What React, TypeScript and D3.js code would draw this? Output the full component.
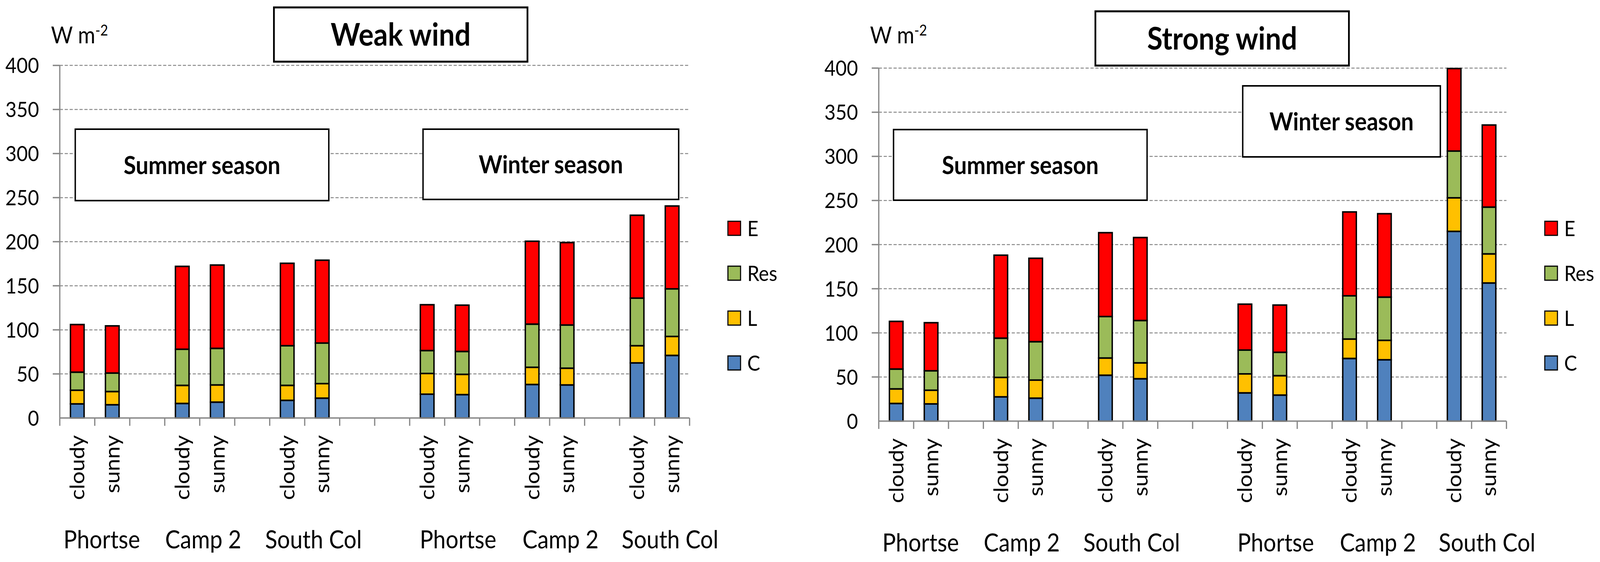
import React from 'react';
import * as d3 from 'd3';

// 数据：两个风况面板，每个 12 根柱（夏/冬 × 三站点 × 阴/晴）
const sites = ['Phortse', 'Camp 2', 'South Col'];
const seasons = ['Summer season', 'Winter season'];
const weathers = ['cloudy', 'sunny'];
const components = ['C', 'L', 'Res', 'E'];
const yTicks = [0, 50, 100, 150, 200, 250, 300, 350, 400];

// Weak wind
const weakC = [16, 15, 16.5, 18, 20, 22.5, 27, 26.5, 38, 37.5, 62.5, 71];
const weakL = [15.5, 15, 20.5, 19.5, 17, 16.5, 23.5, 23, 19.5, 19, 19.5, 21.5];
const weakRes = [20.5, 21, 41, 41.5, 45, 46, 26, 26, 49, 49, 54, 54];
const weakE = [54, 53.5, 94, 94.5, 93.5, 94, 52, 52.5, 94, 93.5, 94, 94];

// Strong wind
const strongC = [20, 19.5, 27.5, 26, 52, 48, 32, 29.5, 71, 69.5, 215, 156.5];
const strongL = [16.5, 15.5, 22, 20.5, 19.5, 18, 21.5, 22, 22, 22, 38, 33];
const strongRes = [22.5, 22, 44.5, 43.5, 47, 48, 27, 26.5, 49, 49, 53, 53];
const strongE = [54, 54.5, 94, 94.5, 95, 94, 52, 53.5, 95, 94.5, 93.5, 93];

const colors: Record<string, string> = {
  C: '#4F81BD',
  L: '#FFC000',
  Res: '#9BBB59',
  E: '#FF0000',
};

const font = "Lato, 'Liberation Sans', sans-serif";
const axisGray = '#878787';

// 画布尺寸（视口可能比 4550 窄，用 viewBox 拉伸填满）
const W = 4550;
const H = 1440;

// 槽位：每站两根柱 + 一个空位，夏季之后再空一格
interface Slot { id: string; season: number; site: number; weather: number; gap: boolean }
const slots: Slot[] = [];
seasons.forEach((_, s) => {
  sites.forEach((_, i) => {
    weathers.forEach((_, w) => slots.push({ id: `${s}-${i}-${w}`, season: s, site: i, weather: w, gap: false }));
    if (!(s === seasons.length - 1 && i === sites.length - 1)) slots.push({ id: `g${s}-${i}`, season: s, site: i, weather: -1, gap: true });
  });
  if (s === 0) slots.push({ id: 'gap-season', season: s, site: -1, weather: -1, gap: true });
});
const barSlots = slots.filter(d => !d.gap);

// 站点标签的微调（与原图保持一致）
const labelNudge = [[20, 10, 25], [38, 31, 44]];

type Box = [number, number, number, number];

interface PanelProps {
  title: string;
  x0: number;
  x1: number;
  y0: number;
  yTop: number;
  titleBox: Box;
  summerBox: Box;
  winterBox: Box;
  cVals: number[];
  lVals: number[];
  resVals: number[];
  eVals: number[];
}

const Panel: React.FC<PanelProps> = ({ title, x0, x1, y0, yTop, titleBox, summerBox, winterBox, cVals, lVals, resVals, eVals }) => {
  const x = d3.scaleBand<string>().domain(slots.map(d => d.id)).range([x0, x1]).padding(0);
  const y = d3.scaleLinear().domain([0, 400]).range([y0, yTop]);
  const bw = x.bandwidth() * 0.39;

  const rows = barSlots.map((s, i) => ({ id: s.id, C: cVals[i], L: lVals[i], Res: resVals[i], E: eVals[i] }));
  const stacked = d3.stack<any>().keys(components)(rows);

  const boxes: [Box, string][] = [[summerBox, seasons[0]], [winterBox, seasons[1]]];

  return (
    <g>
      {/* 网格线 */}
      {yTicks.filter(t => t > 0).map(t => (
        <g key={t}>
          <line x1={x0} x2={x1} y1={y(t)} y2={y(t)} stroke="#8a8a8a" strokeWidth={2.5} strokeDasharray="9 5" />
          <line x1={x0 - 20} x2={x0} y1={y(t)} y2={y(t)} stroke={axisGray} strokeWidth={3.5} />
        </g>
      ))}
      {/* y 轴 */}
      <line x1={x0} x2={x0} y1={y0} y2={yTop} stroke={axisGray} strokeWidth={3.5} />
      {yTicks.map(t => (
        <text key={t} x={x0 - 59} y={y(t)} dy="0.36em" textAnchor="end" fontFamily={font} fontSize={55} fill="#000">{t}</text>
      ))}
      <text x={x0 - 25} y={111} fontFamily={font} fontSize={60} fill="#000">
        W m<tspan dy={-20} fontSize={38}>-2</tspan>
      </text>

      {/* 季节框 */}
      {boxes.map(([b, label]) => (
        <g key={label}>
          <rect x={b[0]} y={b[1]} width={b[2]} height={b[3]} fill="#fff" stroke="#000" strokeWidth={4} />
          <text x={b[0] + b[2] / 2} y={b[1] + b[3] / 2} dy="0.36em" textAnchor="middle" fontFamily={font} fontWeight={700} fontSize={64}>{label}</text>
        </g>
      ))}

      {/* 堆叠柱 */}
      {stacked.map(layer => (
        <g key={layer.key} fill={colors[layer.key]}>
          {layer.map((d, i) => (
            <rect key={i} x={(x(d.data.id) as number) + x.bandwidth() / 2 - bw / 2} y={y(d[1])} width={bw} height={y(d[0]) - y(d[1])} stroke="#000" strokeWidth={4} />
          ))}
        </g>
      ))}

      {/* x 轴 */}
      <line x1={x0} x2={x1} y1={y0} y2={y0} stroke={axisGray} strokeWidth={3.5} />
      {slots.map((s, i) => (
        <line key={s.id} x1={x0 + i * x.bandwidth()} x2={x0 + i * x.bandwidth()} y1={y0} y2={y0 + 20} stroke={axisGray} strokeWidth={3.5} />
      ))}
      <line x1={x1} x2={x1} y1={y0} y2={y0 + 20} stroke={axisGray} strokeWidth={3.5} />

      {barSlots.map(s => (
        <text key={s.id} transform={`translate(${(x(s.id) as number) + x.bandwidth() / 2},${y0 + 44}) rotate(-90)`} dy="0.36em" textAnchor="end" fontFamily={font} fontSize={57}>
          {weathers[s.weather]}
        </text>
      ))}

      {seasons.map((_, si) => sites.map((site, i) => {
        const a = x(`${si}-${i}-0`) as number;
        const b = x(`${si}-${i}-1`) as number;
        const cx = (a + b) / 2 + x.bandwidth() / 2 + labelNudge[si][i];
        return (
          <text key={`${si}-${site}`} x={cx} y={y0 + 334} textAnchor="middle" fontFamily={font} fontSize={64}>{site}</text>
        );
      }))}

      {/* 标题框 */}
      <rect x={titleBox[0]} y={titleBox[1]} width={titleBox[2]} height={titleBox[3]} fill="#fff" stroke="#000" strokeWidth={5} />
      <text x={titleBox[0] + titleBox[2] / 2} y={titleBox[1] + titleBox[3] / 2} dy="0.36em" textAnchor="middle" fontFamily={font} fontWeight={700} fontSize={80}>{title}</text>

      {/* 图例 */}
      {components.slice().reverse().map((c, i) => (
        <g key={c}>
          <rect x={x1 + 109} y={585 + i * 115 - 18} width={36} height={36} fill={colors[c]} stroke="#000" strokeWidth={3} />
          <text x={x1 + 164} y={585 + i * 115} dy="0.36em" fontFamily={font} fontSize={55}>{c}</text>
        </g>
      ))}
    </g>
  );
};

const App: React.FC = () => {
  return (
    <svg
      width="100%"
      height={H}
      viewBox={`0 0 ${W} ${H}`}
      preserveAspectRatio="none"
      style={{ position: 'absolute', left: 0, top: 0, display: 'block', background: '#fff' }}
    >
      <rect width={W} height={H} fill="#fff" />
      <Panel
        title="Weak wind"
        x0={170} x1={1961} y0={1071} yTop={167.6}
        titleBox={[779, 19, 721, 139]}
        summerBox={[214, 331, 721, 183]}
        winterBox={[1203, 331, 727, 180]}
        cVals={weakC} lVals={weakL} resVals={weakRes} eVals={weakE}
      />
      <Panel
        title="Strong wind"
        x0={2499} x1={4284} y0={1079} yTop={174.5}
        titleBox={[3115, 29, 721, 139]}
        summerBox={[2541, 332, 721, 181]}
        winterBox={[3534, 220, 562, 182]}
        cVals={strongC} lVals={strongL} resVals={strongRes} eVals={strongE}
      />
    </svg>
  );
};

export default App;
